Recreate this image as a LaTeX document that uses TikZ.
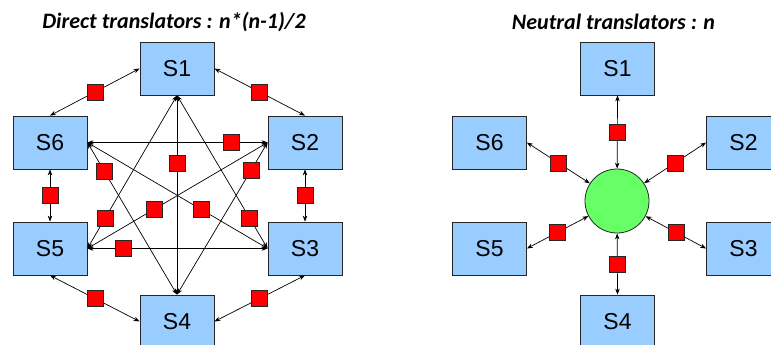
\documentclass[tikz,border=0pt]{standalone}
\usepackage{fontspec}
\newfontfamily\boxfont{Liberation Sans}
\newfontfamily\titlefont{Carlito}
\usetikzlibrary{arrows.meta}
\definecolor{sysblue}{HTML}{99CCFF}
\definecolor{hubgreen}{HTML}{66FF66}
\tikzset{
    sys/.style={draw=black!85, fill=sysblue, line width=0.8pt,
        minimum width=74pt, minimum height=53pt, inner sep=0pt,
        font=\boxfont\fontsize{23}{23}\selectfont},
    trans/.style={draw=black!85, fill=red, line width=0.6pt,
        minimum size=16pt, inner sep=0pt},
    link/.style={draw=black, line width=0.7pt, <->},
    hub/.style={circle, draw=black!85, fill=hubgreen, line width=0.8pt,
        minimum size=64pt, inner sep=0pt},
    heading/.style={font=\titlefont\bfseries\itshape\fontsize{22}{22}\selectfont},
}
\tikzset{>={Stealth[length=6pt,width=4.5pt]}}
\begin{document}
\begin{tikzpicture}[x=1pt,y=-1pt]
\clip (0,0) rectangle (771,345);

%% direct translators
\node[heading] (titleA) at (174,22) {Direct translators : n*(n-1)/2};

\node[sys] (s1) at (177,68.5) {S1};
\node[sys] (s2) at (305,142.5) {S2};
\node[sys] (s3) at (305,248.5) {S3};
\node[sys] (s4) at (177,321.5) {S4};
\node[sys] (s5) at (50,248.5) {S5};
\node[sys] (s6) at (50,142.5) {S6};

% outer ring
\draw [link] (s1.west) -- node[trans]{} (s6.north);
\draw [link] (s1.east) -- node[trans]{} (s2.north);
\draw [link] (s6.south) -- node[trans]{} (s5.north);
\draw [link] (s2.south) -- node[trans]{} (s3.north);
\draw [link] (s5.south) -- node[trans]{} (s4.west);
\draw [link] (s3.south) -- node[trans]{} (s4.east);

% inner star
\draw [link] (s1.south) -- node[trans,pos=0.34]{} (s4.north);
\draw [link] (s1.south) -- node[trans,pos=0.8]{} (s5.east);
\draw [link] (s1.south) -- node[trans,pos=0.8]{} (s3.west);
\draw [link] (s6.east) -- node[trans,pos=0.8]{} (s2.west);
\draw [link] (s6.east) -- node[trans,pos=0.63]{} (s3.west);
\draw [link] (s6.east) -- node[trans,pos=0.19]{} (s4.north);
\draw [link] (s5.east) -- node[trans,pos=0.2]{} (s3.west);
\draw [link] (s5.east) -- node[trans,pos=0.37]{} (s2.west);
\draw [link] (s2.west) -- node[trans,pos=0.18]{} (s4.north);

%% neutral translators
\node[heading] (titleB) at (613.5,22) {Neutral translators : n};

\node[hub] (hub) at (617,201) {};
\node[sys] (t1) at (617.5,68.5) {S1};
\node[sys] (t2) at (743.5,142.5) {S2};
\node[sys] (t3) at (743.5,248.5) {S3};
\node[sys] (t4) at (617.5,321.5) {S4};
\node[sys] (t5) at (489.5,248.5) {S5};
\node[sys] (t6) at (489.5,142.5) {S6};

\draw [link] (t1.south) -- node[trans]{} (hub);
\draw [link] (t2.west) -- node[trans]{} (hub);
\draw [link] (t3.west) -- node[trans]{} (hub);
\draw [link] (t4.north) -- node[trans]{} (hub);
\draw [link] (t5.east) -- node[trans]{} (hub);
\draw [link] (t6.east) -- node[trans]{} (hub);
\end{tikzpicture}
\end{document}
